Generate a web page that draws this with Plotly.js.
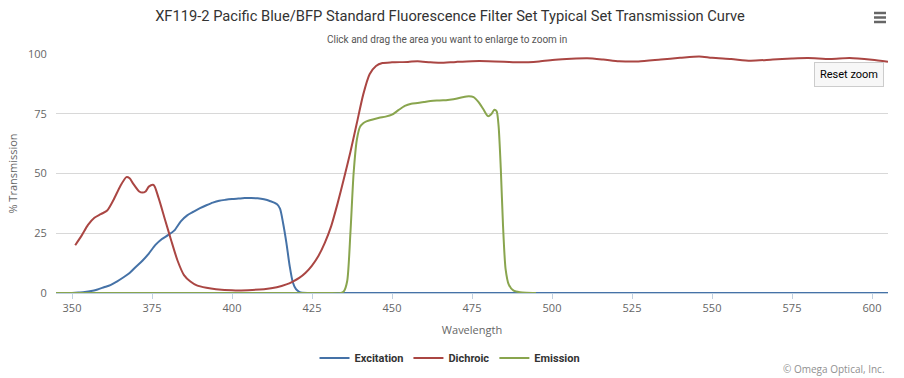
<!DOCTYPE html>
<html>
<head>
<meta charset="utf-8">
<script src="https://cdn.plot.ly/plotly-3.0.1.min.js"></script>
<style>html,body{margin:0;padding:0;background:#fff;}#chart{width:904px;height:378px;}</style>
</head>
<body>
<div id="chart"></div>
<script>
// Excitation
var excitationWl = [350,352,354,356,358,360,362,364,366,368,370,372,374,376,378,380,382,384,386,388,390,392,394,396,398,400,402,404,406,408,410,412,414,415,416,417,418,419,420,421,422,424,430,450,500,550,610];
var excitationT  = [0,0.2,0.4,0.8,1.5,2.4,3.3,4.8,6.5,8.4,11,13.5,16.5,20,22.5,24.2,26.2,30,32.5,34,35.5,36.7,37.8,38.6,39,39.3,39.5,39.7,39.7,39.6,39.2,38.4,37.2,35.3,29,21,11.5,4.5,1.6,0.5,0.1,0,0,0,0,0,0];
// Dichroic
var dichroicWl = [351,353,355,357,359,361,363,365,367,368,369,371,372,373,374,375.5,377,379,381,383,385,387,389,392,395,400,405,410,414,417,419,421,423,425,427,429,431,433,435,437,439,441,443,445,447,450,455,458,462,465,470,475,480,485,490,496,501,506,511,516,521,527,534,540,546,550,556,562,569,575,580,587,593,600,605];
var dichroicT  = [20,24,28.5,31.5,33,34.5,39,44.5,48.5,48,46,42.5,42,42.5,44.5,45.2,40,31,22,13.5,7.5,4.8,3.2,2.2,1.6,1.1,1.2,1.6,2.4,3.6,4.8,6.3,8.5,11.5,15.5,21,28,37.5,48,59,71,83,91.5,95,96.2,96.5,96.7,97,96.5,96.3,96.7,97,97,96.8,96.5,96.9,97.6,98,98.2,97.7,97,96.9,97.7,98.4,99,98.4,97.9,97.2,97.7,98.1,98.3,97.9,98.3,97.6,96.8];
// Emission
var emissionWl = [340,380,420,430,434,435,436,437,438,439,440,441,442,444,446,448,450,452,454,456,458,460,462,464,466,468,470,472,474,475.5,477,478.5,480,481,482,482.7,483.3,484,484.7,485.5,486.5,488,490,492,495];
var emissionT  = [0,0,0,0,0,0.8,5,25,50,64,69.5,71,71.8,72.6,73.3,73.8,74.6,76.5,78.3,79.2,79.5,79.9,80.3,80.5,80.6,80.9,81.3,81.9,82.3,82,80,77,74,74.8,76.7,76,70,52,28,10,3.5,1,0.3,0.1,0];

var xTicks = [350,375,400,425,450,475,500,525,550,575,600];
var yTicks = [0,25,50,75,100];

var font = '"Open Sans", "DejaVu Sans", sans-serif';
var narrow = 'Roboto, "Open Sans", sans-serif';
function line(name, x, y, color) {
  return {type:'scatter', mode:'lines', name:name, x:x, y:y,
    line:{color:color, width:2, shape:'spline', smoothing:0.7}, hoverinfo:'x+y+name'};
}
var data = [
  line('Excitation', excitationWl, excitationT, '#4572A7'),
  line('Dichroic', dichroicWl, dichroicT, '#AA4643'),
  line('Emission', emissionWl, emissionT, '#89A54E')
];

// pixel -> paper helpers (plot area: x 56..888, y 54..293)
function px(x){return (x-56)/832;}
function py(y){return (293-y)/239;}

var layout = {
  width:904, height:378,
  margin:{l:56, r:16, t:54, b:85, autoexpand:false},
  paper_bgcolor:'#fff', plot_bgcolor:'#fff',
  font:{family:font, color:'#666', size:11},
  title:{text:'XF119-2 Pacific Blue/BFP Standard Fluorescence Filter Set Typical Set Transmission Curve',
    font:{family:narrow, size:14.7, color:'#333'},
    x:450/904, xref:'container', xanchor:'center', yref:'container', y:1-16/378, yanchor:'middle'},
  xaxis:{range:[345,605], tickvals:xTicks, ticktext:xTicks.map(String), ticks:'outside', ticklen:5, tickwidth:1,
    tickcolor:'#C0D0E0', showline:true, linecolor:'#C0D0E0', linewidth:1, showgrid:false, zeroline:false,
    tickfont:{size:11, color:'#666'},
    title:{text:'Wavelength', font:{size:11, color:'#666'}, standoff:12}},
  yaxis:{range:[0,100], tickvals:yTicks, ticktext:yTicks.map(String), showgrid:true, gridcolor:'#D8D8D8', gridwidth:1,
    zeroline:false, showline:false, ticks:'outside', ticklen:6, tickcolor:'rgba(0,0,0,0)',
    tickfont:{size:11, color:'#666'},
    title:{text:'% Transmission', font:{size:11, color:'#666'}, standoff:8}},
  showlegend:true,
  legend:{orientation:'h', x:px(450), xanchor:'center', xref:'paper', yref:'container', y:1-358/378, yanchor:'middle',
    font:{size:11, color:'#333', family:narrow, weight:'bold'}, itemwidth:30, bgcolor:'rgba(0,0,0,0)', tracegroupgap:0},
  annotations:[
    {text:'Click and drag the area you want to enlarge to zoom in', xref:'paper', yref:'paper', x:px(447), y:py(39),
      xanchor:'center', yanchor:'middle', showarrow:false,
      font:{family:narrow, size:10, color:'#555'}},
    {text:'© Omega Optical, Inc.', xref:'paper', yref:'paper', x:px(887), y:py(369), xanchor:'right', yanchor:'middle',
      showarrow:false, font:{size:10, color:'#909090'}},
    {text:'Reset zoom', xref:'paper', yref:'paper', x:px(848.5), y:py(74), xanchor:'center', yanchor:'middle',
      showarrow:false, bgcolor:'#f7f7f7', bordercolor:'#cccccc', borderwidth:1, borderpad:5,
      font:{family:narrow, size:11, color:'#000'}}
  ],
  shapes:[
    {type:'line', xref:'paper', yref:'paper', x0:px(874), x1:px(886), y0:py(13), y1:py(13), line:{color:'#666', width:2.5}},
    {type:'line', xref:'paper', yref:'paper', x0:px(874), x1:px(886), y0:py(17.5), y1:py(17.5), line:{color:'#666', width:2.5}},
    {type:'line', xref:'paper', yref:'paper', x0:px(874), x1:px(886), y0:py(22), y1:py(22), line:{color:'#666', width:2.5}}
  ]
};
Plotly.newPlot('chart', data, layout, {displayModeBar:false, responsive:false});
</script>
</body>
</html>
